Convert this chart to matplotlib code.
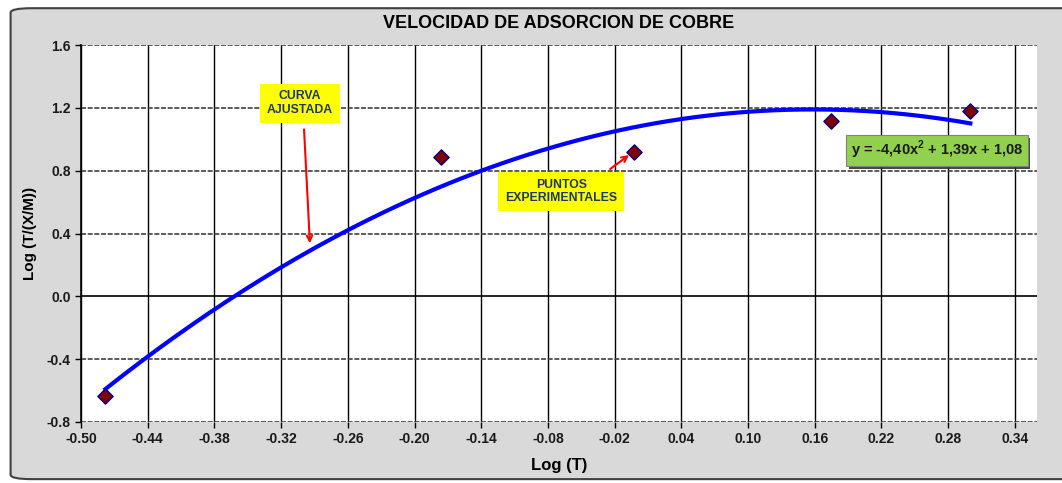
import numpy as np
import matplotlib
matplotlib.use('Agg')
import matplotlib.pyplot as plt
import matplotlib.patheffects as pe
from matplotlib.patches import FancyBboxPatch

plt.rcParams['font.family'] = ['Liberation Sans', 'DejaVu Sans']
plt.rcParams['mathtext.fontset'] = 'custom'
plt.rcParams['mathtext.bf'] = 'Liberation Sans:bold'

# datos experimentales
log_t = [-0.478, -0.176, -0.003, 0.175, 0.300]
log_txm = [-0.636, 0.887, 0.918, 1.116, 1.180]

# coeficientes de la curva ajustada (y = a x^2 + b x + c)
coefs = [-4.40, 1.39, 1.08]

x_ticks = [-0.50, -0.44, -0.38, -0.32, -0.26, -0.20, -0.14, -0.08, -0.02,
           0.04, 0.10, 0.16, 0.22, 0.28, 0.34]
y_ticks = [-0.8, -0.4, 0.0, 0.4, 0.8, 1.2, 1.6]

fig = plt.figure(figsize=(10.62, 4.83), dpi=100)
fig.patch.set_facecolor('white')

# marco gris redondeado
frame = FancyBboxPatch((0.010, 0.008), 1.02, 0.975,
                       boxstyle='round,pad=0,rounding_size=0.02',
                       transform=fig.transFigure, facecolor='#d9d9d9',
                       edgecolor='#404040', linewidth=1.5, zorder=-5,
                       mutation_aspect=483 / 1062)
fig.patches.append(frame)

ax = fig.add_axes([0.0763, 0.1263, 0.9002, 0.7805])
ax.set_facecolor('white')

xs = np.linspace(log_t[0], log_t[-1], 200)
ax.plot(xs, np.polyval(coefs, xs), color='#0000ff', lw=3, zorder=3)
ax.scatter(log_t, log_txm, marker='D', s=60, facecolor='#800000',
           edgecolor='#000080', linewidth=1, zorder=4)

ax.set_xlim(-0.50, 0.36)
ax.set_ylim(-0.8, 1.6)
ax.set_xticks(x_ticks)
ax.set_yticks(y_ticks)
ax.set_xticklabels(['%.2f' % v for v in x_ticks])
ax.set_yticklabels(['%.1f' % v for v in y_ticks])

for v in x_ticks:
    ax.axvline(v, color='black', lw=1, zorder=1)
for v in y_ticks:
    if v == 0.0:
        ax.axhline(v, color='black', lw=1.2, zorder=1)
    else:
        ax.axhline(v, color='#404040', lw=1.2, ls=(0, (3, 1)), zorder=1)

for s in ['top', 'right', 'bottom']:
    ax.spines[s].set_visible(False)
ax.spines['left'].set_color('black')
ax.spines['left'].set_linewidth(1.2)
ax.tick_params(axis='both', length=4, width=1, colors='black',
               labelsize=10, labelcolor='#1a1a1a')
for lab in ax.get_xticklabels() + ax.get_yticklabels():
    lab.set_fontweight('bold')

ax.set_title('VELOCIDAD DE ADSORCION DE COBRE', fontsize=13, fontweight='bold',
             pad=12)
ax.set_xlabel('Log (T)', fontsize=12, fontweight='bold', labelpad=8)
ax.set_ylabel('Log (T/(X/M))', fontsize=11, fontweight='bold', labelpad=7)

# anotaciones
ax.annotate('', xy=(-0.294, 0.32), xytext=(-0.2995, 1.08),
            arrowprops=dict(arrowstyle='->', color='red', lw=1.5), zorder=5)
ax.text(-0.303, 1.23, 'CURVA\nAJUSTADA', ha='center', va='center',
        fontsize=8.8, fontweight='bold', color='#1f3864', linespacing=1.15,
        bbox=dict(boxstyle='square,pad=0.55', facecolor='#ffff00',
                  edgecolor='none'), zorder=6)

ax.annotate('', xy=(-0.005, 0.91), xytext=(-0.026, 0.80),
            arrowprops=dict(arrowstyle='->', color='red', lw=1.5), zorder=5)
ax.text(-0.068, 0.667, 'PUNTOS\nEXPERIMENTALES', ha='center', va='center',
        fontsize=8.8, fontweight='bold', color='#1f3864', linespacing=1.15,
        bbox=dict(boxstyle='square,pad=0.55', facecolor='#ffff00',
                  edgecolor='none'), zorder=6)

eq = ax.text(0.270, 0.93, r'y = -4,40x$^{\mathbf{2}}$ + 1,39x + 1,08',
             ha='center', va='center', fontsize=10.5, fontweight='bold',
             color='#1a1a1a',
             bbox=dict(boxstyle='square,pad=0.3', facecolor='#92d050',
                       edgecolor='#808080', lw=0.8), zorder=6)
eq.get_bbox_patch().set_path_effects([
    pe.SimplePatchShadow(offset=(2, -2), shadow_rgbFace='#333333', alpha=0.9),
    pe.Normal()])

fig.savefig('out.png', dpi=100, facecolor=fig.get_facecolor())
